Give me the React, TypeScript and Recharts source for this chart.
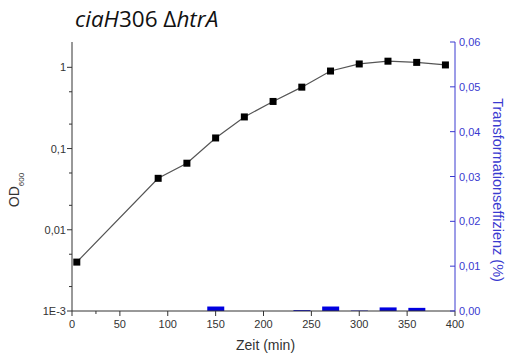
import React from 'react';
import { ComposedChart, Line, Bar, XAxis, YAxis } from 'recharts';

// growth curve (OD600, log scale)
const times = [5, 90, 120, 150, 180, 210, 240, 270, 300, 330, 360, 390];
const od600 = [0.004, 0.043, 0.066, 0.135, 0.245, 0.38, 0.57, 0.9, 1.1, 1.19, 1.15, 1.07];

// transformation efficiency (%), right axis
const effTimes = [150, 240, 270, 300, 330, 360];
const efficiency = [0.001, 0.0002, 0.001, 0.0001, 0.0008, 0.0007];

const leftMajor = [0.001, 0.01, 0.1, 1];
const leftLabels = ['1E-3', '0,01', '0,1', '1'];
const xTicks = [0, 25, 50, 75, 100, 125, 150, 175, 200, 225, 250, 275, 300, 325, 350, 375, 400];
const rightTicks = [0, 0.005, 0.01, 0.015, 0.02, 0.025, 0.03, 0.035, 0.04, 0.045, 0.05, 0.055, 0.06];

const data = times.map((t, i) => {
  const k = effTimes.indexOf(t);
  return { t, od: od600[i], eff: k >= 0 ? efficiency[k] : null };
});

const leftTicks: number[] = [];
leftMajor.slice(0, 3).forEach((d) => {
  for (let m = 1; m <= 9; m++) leftTicks.push(+(d * m).toPrecision(3));
});
leftTicks.push(1);

const GREY = '#333';
const BLUE = '#3a3ad0';
const FONT = '"Liberation Sans", Arial, sans-serif';

const LeftTick = (props: any) => {
  const { x, y, payload } = props;
  const idx = leftMajor.findIndex((v) => Math.abs(v - payload.value) < v * 1e-6);
  const major = idx >= 0;
  return (
    <g>
      <line x1={x} x2={x - (major ? 5 : 3)} y1={y} y2={y} stroke={GREY} />
      {major && (
        <text x={x - 6} y={y} dy={4} textAnchor="end" fontSize={11} fill={GREY} fontFamily={FONT}>
          {leftLabels[idx]}
        </text>
      )}
    </g>
  );
};

const BottomTick = (props: any) => {
  const { x, y, payload } = props;
  const major = payload.value % 50 === 0;
  return (
    <g>
      <line x1={x} x2={x} y1={y} y2={y + (major ? 5 : 3)} stroke={GREY} />
      {major && (
        <text x={x} y={y + 17} textAnchor="middle" fontSize={11} fill={GREY} fontFamily={FONT}>
          {payload.value}
        </text>
      )}
    </g>
  );
};

const TopTick = (props: any) => {
  const { x, y, payload } = props;
  const major = payload.value % 50 === 0;
  return <line x1={x} x2={x} y1={y} y2={y + (major ? 5 : 3)} stroke={GREY} />;
};

const RightTick = (props: any) => {
  const { x, y, payload } = props;
  const major = Math.round(payload.value * 1000) % 10 === 0;
  return (
    <g>
      <line x1={x} x2={x - (major ? 5 : 3)} y1={y} y2={y} stroke={BLUE} />
      {major && (
        <text x={x + 4} y={y} dy={4} textAnchor="start" fontSize={11} fill={BLUE} fontFamily={FONT}>
          {payload.value.toFixed(2).replace('.', ',')}
        </text>
      )}
    </g>
  );
};

const SquareDot = (props: any) => {
  const { cx, cy, index } = props;
  return <rect key={index} x={cx - 3.5} y={cy - 3.5} width={7} height={7} fill="#000" />;
};

const OdLabel = ({ viewBox }: any) => {
  const cx = viewBox.x + 19;
  const cy = viewBox.y + 148;
  return (
    <text x={cx} y={cy} transform={`rotate(-90 ${cx} ${cy})`} textAnchor="middle" fontSize={14} fill={GREY} fontFamily={FONT}>
      OD<tspan fontSize={8} dy={5}>600</tspan>
    </text>
  );
};

const EffLabel = ({ viewBox }: any) => {
  const cx = viewBox.x + 38;
  const cy = viewBox.y + 148;
  return (
    <text x={cx} y={cy} transform={`rotate(90 ${cx} ${cy})`} textAnchor="middle" fontSize={14.5} fill={BLUE} fontFamily={FONT}>
      Transformationseffizienz (%)
    </text>
  );
};

const TimeLabel = ({ viewBox }: any) => (
  <text x={viewBox.x + viewBox.width / 2 + 2} y={viewBox.y + 39} textAnchor="middle" fontSize={14} fill={GREY} fontFamily={FONT}>
    Zeit (min)
  </text>
);

export default function App() {
  return (
    <div style={{ position: 'absolute', left: 0, top: 0, width: 514, height: 356, background: '#fff' }}>
      <div
        style={{
          position: 'absolute',
          left: 75,
          top: 3,
          fontFamily: '"Open Sans", sans-serif',
          fontSize: 22.5,
          color: '#111',
          whiteSpace: 'nowrap',
        }}
      >
        <i>ciaH</i>306 Δ<i>htrA</i>
      </div>
      <ComposedChart width={514} height={356} data={data} margin={{ top: 42, right: 0, bottom: 0, left: 0 }}>
        <XAxis
          xAxisId="top"
          orientation="top"
          type="number"
          dataKey="t"
          domain={[0, 400]}
          ticks={xTicks}
          height={0}
          tick={<TopTick />}
          tickSize={0}
          tickMargin={0}
          tickLine={false}
          axisLine={{ stroke: GREY }}
        />
        <XAxis
          type="number"
          dataKey="t"
          domain={[0, 400]}
          ticks={xTicks}
          height={45}
          tick={<BottomTick />}
          tickSize={0}
          tickMargin={0}
          tickLine={false}
          axisLine={{ stroke: GREY }}
          label={{ content: <TimeLabel /> }}
        />
        <YAxis
          yAxisId="left"
          scale="log"
          type="number"
          domain={[0.001, 2.05]}
          allowDataOverflow
          ticks={leftTicks}
          width={72}
          tick={<LeftTick />}
          tickSize={0}
          tickMargin={0}
          tickLine={false}
          axisLine={{ stroke: GREY }}
          label={{ content: <OdLabel /> }}
        />
        <YAxis
          yAxisId="right"
          orientation="right"
          type="number"
          domain={[0, 0.06]}
          ticks={rightTicks}
          width={59}
          tick={<RightTick />}
          tickSize={0}
          tickMargin={0}
          tickLine={false}
          axisLine={{ stroke: BLUE }}
          label={{ content: <EffLabel /> }}
        />
        <Bar yAxisId="right" dataKey="eff" fill="#0000e0" barSize={17} isAnimationActive={false} />
        <Line
          yAxisId="left"
          type="linear"
          dataKey="od"
          stroke="#555"
          strokeWidth={1.2}
          dot={<SquareDot />}
          activeDot={false}
          isAnimationActive={false}
        />
      </ComposedChart>
    </div>
  );
}
